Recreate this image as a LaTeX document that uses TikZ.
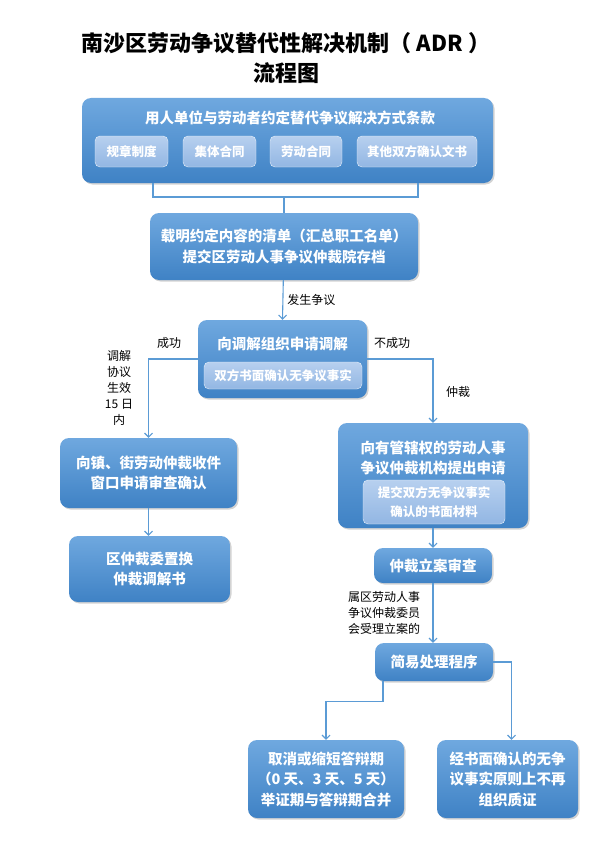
\documentclass[tikz,border=0pt]{standalone}
\usepackage{fontspec}
\setmainfont{Noto Sans CJK SC}
\usetikzlibrary{arrows.meta,positioning,shadows}
\definecolor{boxtop}{HTML}{6FA8DF}
\definecolor{boxbot}{HTML}{3F82C5}
\definecolor{subtop}{HTML}{B7D0EF}
\definecolor{subbot}{HTML}{92B6E3}
\definecolor{linkblue}{HTML}{5B9BD5}

\begin{document}
\begin{tikzpicture}[x=1pt, y=-1pt,
    box/.style={rounded corners=9pt, top color=boxtop, bottom color=boxbot, text=white, align=center,
        font=\bfseries\fontsize{14.5}{20.5}\selectfont, inner sep=0pt,
        drop shadow={shadow xshift=1.5pt, shadow yshift=-1.5pt, opacity=0.35}},
    subbox/.style={rounded corners=5pt, top color=subtop, bottom color=subbot, draw=white!70!subtop, text=white,
        align=center, font=\bfseries\fontsize{12.5}{16}\selectfont, inner sep=0pt},
    line/.style={draw=linkblue, line width=1.1pt},
    arr/.style={line, -{Straight Barb[length=4pt, width=8pt]}},
    lbl/.style={font=\fontsize{12}{16}\selectfont, align=center, inner sep=0pt}
]
\useasboundingbox (0,0) rectangle (596,864);

% title
\node[font=\bfseries\fontsize{22}{30}\selectfont, align=center] (title) at (286,58)
    {南沙区劳动争议替代性解决机制（ ADR ）\\流程图};

% agreement clause
\node[box, minimum width=411pt, minimum height=85pt] (rule) at (287.5,140.5) {};
\node[text=white, font=\bfseries\fontsize{14.5}{20}\selectfont] (ruletitle) at (290,118) {用人单位与劳动者约定替代争议解决方式条款};
\node[subbox, minimum width=73pt, minimum height=31pt] (regs) at (131.5,151.5) {规章制度};
\node[subbox, minimum width=73pt, minimum height=31pt] (collective) at (219.5,151.5) {集体合同};
\node[subbox, minimum width=72pt, minimum height=31pt] (labour) at (306,151.5) {劳动合同};
\node[subbox, minimum width=120pt, minimum height=31pt] (otherdoc) at (417,151.5) {其他双方确认文书};

% filing list
\node[box, minimum width=268pt, minimum height=67pt] (list) at (284,246.5)
    {载明约定内容的清单（汇总职工名单）\\提交区劳动人事争议仲裁院存档};

% mediation
\node[box, minimum width=169pt, minimum height=78pt] (mediate) at (282.5,359) {};
\node[text=white, font=\bfseries\fontsize{14.5}{20}\selectfont] (mediatetitle) at (282.5,344) {向调解组织申请调解};
\node[subbox, minimum width=158pt, minimum height=27pt] (facts) at (283,375.5) {双方书面确认无争议事实};

% success branch
\node[box, minimum width=177pt, minimum height=70pt] (town) at (148.5,473)
    {向镇、街劳动仲裁收件\\窗口申请审查确认};
\node[box, minimum width=161pt, minimum height=66pt] (swap) at (149.5,569)
    {区仲裁委置换\\仲裁调解书};

% failure branch
\node[box, minimum width=190pt, minimum height=105pt] (apply) at (433,475.5) {};
\node[text=white, align=center, font=\bfseries\fontsize{14.5}{20}\selectfont] (applytitle) at (433,458)
    {向有管辖权的劳动人事\\争议仲裁机构提出申请};
\node[subbox, minimum width=142pt, minimum height=44pt, font=\bfseries\fontsize{12.5}{19}\selectfont] (material) at (434,502)
    {提交双方无争议事实\\确认的书面材料};
\node[box, minimum width=118pt, minimum height=35pt] (review) at (433,565.5) {仲裁立案审查};
\node[box, minimum width=118pt, minimum height=38pt] (simple) at (434,662) {简易处理程序};
\node[box, minimum width=156pt, minimum height=78pt, font=\bfseries\fontsize{14.5}{20.5}\selectfont] (cancel) at (326,779)
    {取消或缩短答辩期\\（0 天、3 天、5 天）\\举证期与答辩期合并};
\node[box, minimum width=141pt, minimum height=78pt, font=\bfseries\fontsize{14.5}{20.5}\selectfont] (noproof) at (507.5,779)
    {经书面确认的无争\\议事实原则上不再\\组织质证};

% connectors
\coordinate (jl) at (153,197);
\coordinate (jr) at (418,197);
\draw[line] (rule.south -| jl) -- (jl) -- (jr) -- (rule.south -| jr);
\draw[line] (list.north |- jl) -- (list.north);
\draw[arr] (list) -- (mediate.north) node[lbl, midway, right=4pt] (dispute) {发生争议};
\draw[arr] (mediate.west) -| (town.north);
\draw[arr] (mediate.east) -| (apply.north);
\draw[arr] (town.south) -- (town.south |- swap.north);
\draw[arr] (apply) -- (review);
\draw[arr] (review) -- (review.south |- simple.north);
\draw[arr] ([xshift=-51pt]simple.south) -- ++(0,20) -| (cancel.north);
\draw[arr] (simple.east) -| ([xshift=4pt]noproof.north);

% labels
\node[lbl] (success) at (169,343) {成功};
\node[lbl] (fail) at (392,343) {不成功};
\node[lbl, font=\fontsize{12}{16}\selectfont] (within) at (119,388) {调解\\协议\\生效\\15 日\\内};
\node[lbl] (arbitrate) at (458,392) {仲裁};
\node[lbl, align=left] (accept) at (384,613) {属区劳动人事\\争议仲裁委员\\会受理立案的};
\end{tikzpicture}
\end{document}
